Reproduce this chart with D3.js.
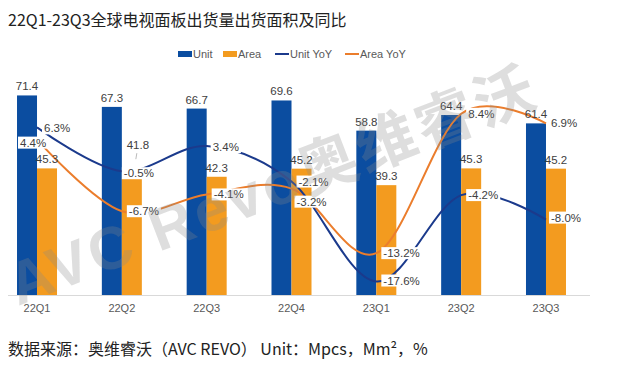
<!DOCTYPE html>
<html><head><meta charset="utf-8">
<script src="https://cdn.jsdelivr.net/npm/d3@7"></script>
<style>
html,body{margin:0;padding:0;background:#fff;}
svg{display:block;}
</style></head>
<body>
<svg id="c" width="630" height="372"></svg>
<script>
const categories = ["22Q1","22Q2","22Q3","22Q4","23Q1","23Q2","23Q3"];
const unitValues = [71.4, 67.3, 66.7, 69.6, 58.8, 64.4, 61.4];
const areaValues = [45.3, 41.8, 42.3, 45.2, 39.3, 45.3, 45.2];
const unitYoY = [6.3, -0.5, 3.4, -2.1, -17.6, -4.2, -8.0];
const areaYoY = [4.4, -6.7, -4.1, -3.2, -13.2, 8.4, 6.9];
const legendLabels = ["Unit", "Area", "Unit YoY", "Area YoY"];
const titleText = "22Q1-23Q3全球电视面板出货量出货面积及同比";
const sourceText = "数据来源：奥维睿沃（AVC REVO）  Unit：Mpcs，Mm²，%";
// label offsets (layout tweaks) for percentage labels
const unitLblDx = [6, 1, 5, 6, 6, 6, 4];
const unitLblDy = [1, 2, 1, 0, -1, 0, -2];
const areaLblDx = [-18, 6, 6, 4, 6, 6, 4];
const areaLblDy = [3, 0, 0, 13, 0, 0, 0];

const C_BLUE = "#0B4DA0", C_ORANGE = "#F39B1F", C_ULINE = "#1B3A8C", C_ALINE = "#EB7D2C";
const svg = d3.select("#c");
const base = 295;

const x = d3.scaleBand().domain(categories).range([-5.4, 588.4]).paddingInner(0).paddingOuter(0);
const bw = 20;
const y = d3.scaleLinear().domain([0, 80]).range([base, base - 80 * 2.795]);
const y2 = d3.scaleLinear().domain([-20, 10]).range([297, 103.5]);
const cx = c => x(c) + x.bandwidth() / 2;

// title
svg.append("text").attr("x", 8).attr("y", 26)
  .attr("font-family", "'Noto Sans CJK SC','Microsoft YaHei',sans-serif")
  .attr("font-size", 16).attr("fill", "#222").text(titleText);

// legend
const lg = svg.append("g").attr("font-family", "'Liberation Sans',Arial,sans-serif")
  .attr("font-size", 11).attr("fill", "#595959");
const legendX = [178, 223, 275, 345];
legendLabels.forEach((t, i) => {
  const g = lg.append("g").attr("transform", `translate(${legendX[i]},0)`);
  if (i < 2) g.append("rect").attr("x", 0).attr("y", 51).attr("width", 14).attr("height", 6).attr("fill", i === 0 ? C_BLUE : C_ORANGE);
  else g.append("line").attr("x1", 0).attr("x2", 14).attr("y1", 54).attr("y2", 54).attr("stroke", i === 2 ? C_ULINE : C_ALINE).attr("stroke-width", 2);
  g.append("text").attr("x", 15).attr("y", 58).text(t);
});

// axis line
svg.append("line").attr("x1", 8).attr("x2", 590).attr("y1", base + 0.5).attr("y2", base + 0.5)
  .attr("stroke", "#d9d9d9").attr("stroke-width", 1);

// x labels
svg.append("g").selectAll("text").data(categories).join("text")
  .attr("x", d => cx(d)).attr("y", 312).attr("text-anchor", "middle")
  .attr("font-family", "'Liberation Sans',Arial,sans-serif").attr("font-size", 11).attr("fill", "#595959")
  .text(d => d);

// bars
svg.append("g").selectAll("rect").data(categories).join("rect")
  .attr("x", d => cx(d) - bw).attr("width", bw)
  .attr("y", (d, i) => y(unitValues[i])).attr("height", (d, i) => base - y(unitValues[i]))
  .attr("fill", C_BLUE);
svg.append("g").selectAll("rect").data(categories).join("rect")
  .attr("x", d => cx(d)).attr("width", bw)
  .attr("y", (d, i) => y(areaValues[i])).attr("height", (d, i) => base - y(areaValues[i]))
  .attr("fill", C_ORANGE);

// lines
const line = d3.line().curve(d3.curveCatmullRom.alpha(0));
const uPts = categories.map((c, i) => [cx(c), y2(unitYoY[i])]);
const aPts = categories.map((c, i) => [cx(c), y2(areaYoY[i])]);
svg.append("path").attr("d", line(aPts)).attr("fill", "none").attr("stroke", C_ALINE).attr("stroke-width", 2);
svg.append("path").attr("d", line(uPts)).attr("fill", "none").attr("stroke", C_ULINE).attr("stroke-width", 2);

// bar value labels
const lblFont = "'Liberation Sans',Arial,sans-serif";
const bl = svg.append("g").attr("font-family", lblFont).attr("font-size", 11.5).attr("fill", "#404040").attr("text-anchor", "middle");
categories.forEach((c, i) => {
  bl.append("text").attr("x", cx(c) - bw / 2).attr("y", y(unitValues[i]) - 5).text(unitValues[i].toFixed(1));
  let ay = y(areaValues[i]) - 5, ax = cx(c) + bw / 2;
  if (i === 1) { ay -= 24; ax += 6; 
    svg.append("line").attr("x1", ax - 1).attr("x2", ax - 2).attr("y1", ay + 4).attr("y2", ay + 10).attr("stroke", "#bbb").attr("stroke-width", 1);
  }
  bl.append("text").attr("x", ax).attr("y", ay).text(areaValues[i].toFixed(1));
});

// percentage labels
function pctLabels(vals, pts, dxs, dys) {
  const g = svg.append("g").attr("font-family", lblFont).attr("font-size", 11.5).attr("fill", "#404040");
  vals.forEach((v, i) => {
    const t = v.toFixed(1) + "%";
    const lx = pts[i][0] + dxs[i], ly = pts[i][1] + dys[i];
    const gg = g.append("g");
    const r = gg.append("rect").attr("fill", "#fff");
    const tx = gg.append("text").attr("x", lx + 1).attr("y", ly + 4).text(t);
    const bb = tx.node().getBBox();
    r.attr("x", bb.x - 2).attr("y", bb.y).attr("width", bb.width + 4).attr("height", bb.height);
  });
}
pctLabels(unitYoY, uPts, unitLblDx, unitLblDy);
pctLabels(areaYoY, aPts, areaLblDx, areaLblDy);

// watermark
svg.append("text").attr("transform", "translate(18,306) rotate(-21)")
  .attr("font-family", "'Liberation Sans',Arial,'Noto Sans CJK SC',sans-serif")
  .attr("font-size", 60).attr("font-weight", "bold").attr("letter-spacing", 3)
  .attr("fill", "#888").attr("fill-opacity", 0.28)
  .text("AVC Revo奥维睿沃");

// source
svg.append("text").attr("x", 8).attr("y", 355)
  .attr("font-family", "'Noto Sans CJK SC','Microsoft YaHei',sans-serif")
  .attr("font-size", 16).attr("fill", "#222").text(sourceText);
</script>
</body></html>
